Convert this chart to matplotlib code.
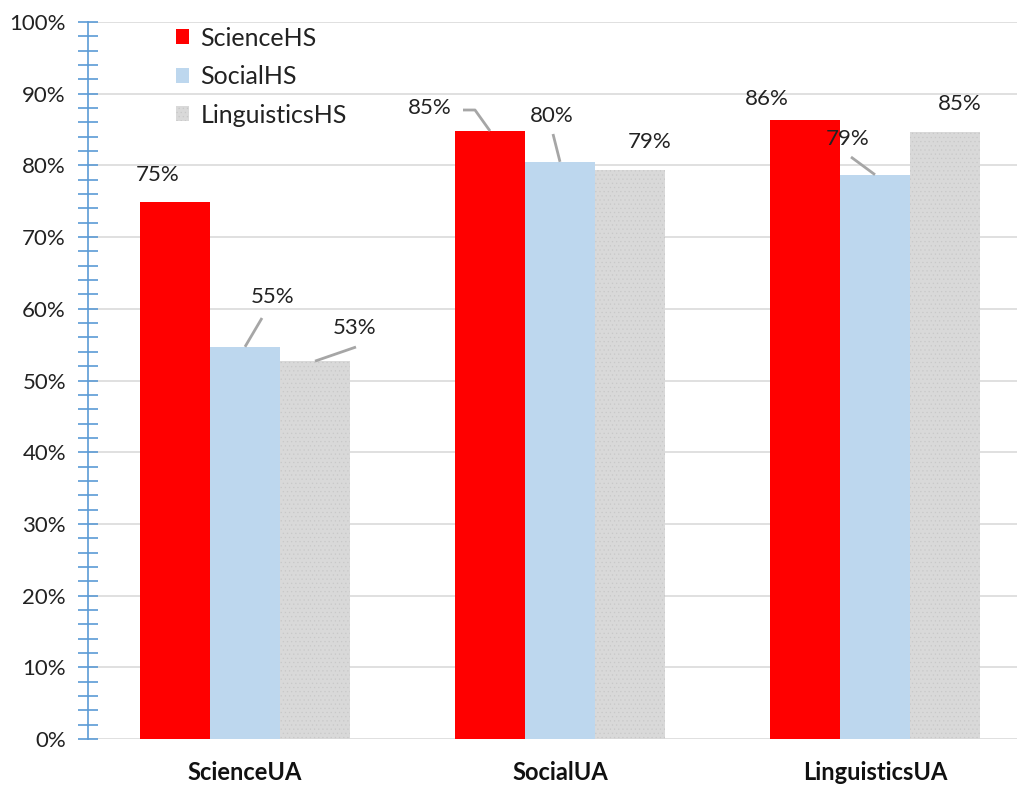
import matplotlib.pyplot as plt
import numpy as np

categories = ["ScienceUA", "SocialUA", "LinguisticsUA"]
series_names = ["ScienceHS", "SocialHS", "LinguisticsHS"]
science_hs = [0.749, 0.848, 0.863]
social_hs = [0.547, 0.805, 0.787]
linguistics_hs = [0.527, 0.794, 0.847]
label_texts = [["75%", "85%", "86%"], ["55%", "80%", "79%"], ["53%", "79%", "85%"]]
y_ticks = [0.0, 0.1, 0.2, 0.3, 0.4, 0.5, 0.6, 0.7, 0.8, 0.9, 1.0]

series = [science_hs, social_hs, linguistics_hs]
colors = ["#ff0000", "#bdd7ee", "#d9d9d9"]

plt.rcParams["font.family"] = ["Lato", "DejaVu Sans"]
plt.rcParams["hatch.linewidth"] = 0.4

W, H = 1017, 787
fig = plt.figure(figsize=(W / 100, H / 100), dpi=100)
x0, x1 = 87.5, 1032.5
y0, y1 = 739, 22
ax = fig.add_axes([x0 / W, 1 - y0 / H, (x1 - x0) / W, (y0 - y1) / H])

bw = 70 / 315
x = np.arange(len(categories))
for i, (vals, c) in enumerate(zip(series, colors)):
    pos = x + (i - 1) * bw
    if i == 2:
        ax.bar(pos, vals, bw, color=c, hatch="....", edgecolor="#c8c8c8",
               linewidth=0, label=series_names[i], zorder=3)
    else:
        ax.bar(pos, vals, bw, color=c, linewidth=0, label=series_names[i], zorder=3)

ax.set_xlim(-0.5, 2.5)
ax.set_ylim(0, 1.0)
ax.set_yticks(y_ticks)
ax.set_yticklabels([f"{int(round(t * 100))}%" for t in y_ticks])
ax.set_yticks(np.arange(0, 1.0001, 0.02), minor=True)
ax.yaxis.grid(True, which="major", color="#dadada", linewidth=1.2, zorder=0)
ax.set_axisbelow(True)

for s in ["top", "right", "bottom"]:
    ax.spines[s].set_visible(False)
ax.spines["left"].set_color("#5b9bd5")
ax.spines["left"].set_linewidth(1.2)
ax.tick_params(axis="y", which="both", direction="inout", length=15, width=1.2,
               color="#5b9bd5", labelsize=16, labelcolor="#222222", pad=8)
ax.tick_params(axis="x", length=0, labelsize=17, pad=16)
ax.set_xticks(x)
ax.set_xticklabels(categories, fontweight="bold", color="#111111")

def px2data(px, py):
    return ((px - x0) / 315 - 0.5, (y0 - py) / (y0 - y1))

# label centre and leader-line path, in pixel space
label_px = {
    (0, 0): (158, 175, None),
    (1, 0): (273, 297, [(245, 347), (262, 318)]),
    (2, 0): (355, 328, [(315, 361), (356, 347)]),
    (0, 1): (430, 108, [(490, 131), (475, 110), (463, 110)]),
    (1, 1): (552, 116, [(560, 162), (553, 134)]),
    (2, 1): (650, 142, None),
    (0, 2): (767, 99, None),
    (1, 2): (848, 139, [(875, 175), (851, 157)]),
    (2, 2): (960, 104, None),
}
for (si, ci), (lx, ly, leader) in label_px.items():
    tx, ty = px2data(lx, ly)
    ax.text(tx, ty, label_texts[si][ci], ha="center", va="center",
            fontsize=16, color="#222222", zorder=5)
    if leader:
        pts = [px2data(px, py) for px, py in leader]
        pts[0] = (ci + (si - 1) * bw, series[si][ci])
        ax.plot([p[0] for p in pts], [p[1] for p in pts], color="#a6a6a6",
                linewidth=2, zorder=4, solid_capstyle="butt")

leg = ax.legend(loc="upper left", bbox_to_anchor=((153 - x0) / (x1 - x0), 1.025),
                frameon=False, fontsize=18, handlelength=0.55, handleheight=0.55,
                handletextpad=0.45, labelspacing=0.62)
for t in leg.get_texts():
    t.set_color("#222222")

fig.savefig("out.png", dpi=100)
